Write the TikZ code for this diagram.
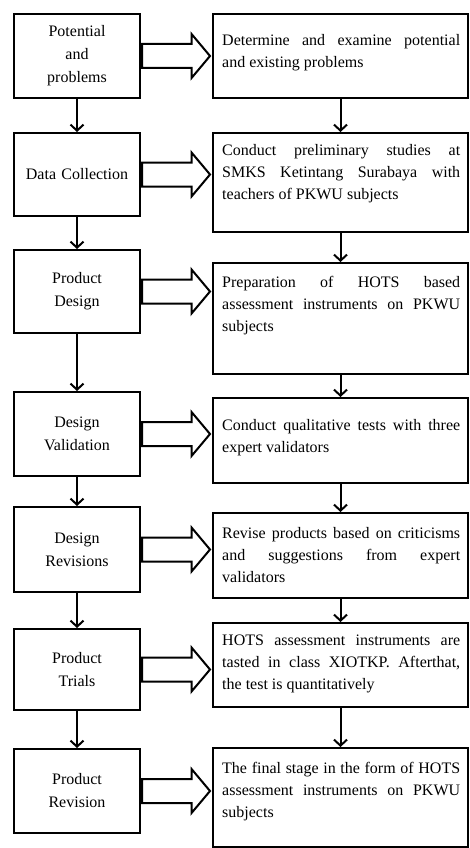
\documentclass[tikz,border=0pt]{standalone}
\usepackage{fontspec}
\setmainfont{Liberation Serif}
\usetikzlibrary{shapes,arrows,arrows.meta}
\usetikzlibrary{positioning}
\tikzstyle{stage} = [rectangle, draw, line width=2pt, minimum width=126pt,
    text width=120pt, align=center, inner sep=0pt, font=\fontsize{16}{23}\selectfont]
\tikzstyle{task} = [rectangle, draw, line width=2pt, minimum width=255pt, inner sep=0pt]
\tikzstyle{desc} = [text width=238pt, align=justify, inner xsep=10pt, inner ysep=0pt,
    font=\fontsize{16}{22}\selectfont]
\tikzstyle{line} = [draw, line width=2pt, -{Straight Barb[length=6pt,width=13pt]}]

\begin{document}
\begin{tikzpicture}[x=1pt, y=-1pt]
\useasboundingbox (0,0) rectangle (469,848);

% Define block styles
\tikzstyle{bigarrow} = [single arrow, draw, line width=2pt, minimum height=68pt,
    single arrow head extend=10pt, single arrow tip angle=100, inner xsep=0pt, inner ysep=11pt]

        % Place nodes
    \node [stage, minimum height=84pt] (potential) at (77,56) {Potential\\and\\problems};
    \node [stage, minimum height=83pt] (collect) at (77,174.5) {Data Collection};
    \node [stage, minimum height=83pt] (design) at (77,291.5) {Product\\Design};
    \node [stage, minimum height=84pt] (validate) at (77,434) {Design\\Validation};
    \node [stage, minimum height=85pt] (revise) at (77,549.5) {Design\\Revisions};
    \node [stage, minimum height=81pt] (trial) at (77,669.5) {Product\\Trials};
    \node [stage, minimum height=84pt] (final) at (77,791) {Product\\Revision};

    \node [task, minimum height=84pt] (examine) at (340.5,56) {};
    \node [task, minimum height=99pt] (study) at (340.5,182.5) {};
    \node [task, minimum height=111pt] (prepare) at (340.5,318.5) {};
    \node [task, minimum height=85pt] (qualit) at (340.5,440.5) {};
    \node [task, minimum height=85pt] (improve) at (340.5,555.5) {};
    \node [task, minimum height=84pt] (quantit) at (340.5,665) {};
    \node [task, minimum height=99pt] (instrument) at (340.5,797.5) {};

    % Texts in the right boxes
    \node [desc, below right=21pt and 0pt of examine.north west] (examineText)
        {Determine and examine potential\linebreak and existing problems};
    \node [desc, below right=12pt and 0pt of study.north west] (studyText)
        {Conduct preliminary studies at\linebreak SMKS Ketintang Surabaya with\linebreak teachers of PKWU subjects};
    \node [desc, below right=14pt and 0pt of prepare.north west] (prepareText)
        {Preparation of HOTS based\linebreak assessment instruments on PKWU\linebreak subjects};
    \node [desc, below right=22pt and 0pt of qualit.north west] (qualitText)
        {Conduct qualitative tests with three\linebreak expert validators};
    \node [desc, below right=15pt and 0pt of improve.north west] (improveText)
        {Revise products based on criticisms\linebreak and suggestions from expert\linebreak validators};
    \node [desc, below right=13pt and 0pt of quantit.north west] (quantitText)
        {\frenchspacing HOTS assessment instruments are\linebreak tasted in class XIOTKP. Afterthat,\linebreak the test is quantitatively};
    \node [desc, below right=15pt and 0pt of instrument.north west] (instrumentText)
        {The final stage in the form of HOTS\linebreak assessment instruments on PKWU\linebreak subjects};

    % Block arrows
    \node [bigarrow, right=0pt of potential] (a1) {};
    \node [bigarrow, right=0pt of collect] (a2) {};
    \node [bigarrow, right=0pt of design] (a3) {};
    \node [bigarrow, right=0pt of validate] (a4) {};
    \node [bigarrow, right=0pt of revise] (a5) {};
    \node [bigarrow, right=0pt of trial] (a6) {};
    \node [bigarrow, right=0pt of final] (a7) {};

    \path [line] (potential) -- (collect);
    \path [line] (collect) -- (design);
    \path [line] (design) -- (validate);
    \path [line] (validate) -- (revise);
    \path [line] (revise) -- (trial);
    \path [line] (trial) -- (final);

    \path [line] (examine) -- (study);
    \path [line] (study) -- (prepare);
    \path [line] (prepare) -- (qualit);
    \path [line] (qualit) -- (improve);
    \path [line] (improve) -- (quantit);
    \path [line] (quantit) -- (instrument);
\end{tikzpicture}
\end{document}
